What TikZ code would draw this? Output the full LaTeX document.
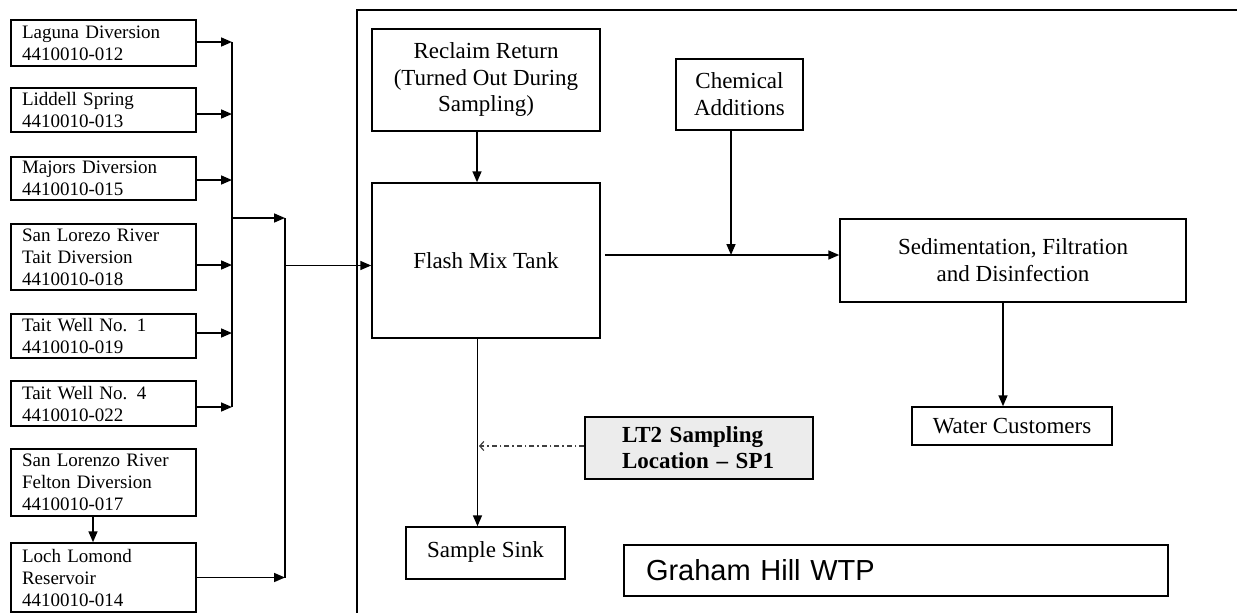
\documentclass[tikz,border=0pt]{standalone}
\usepackage{fontspec}
\setmainfont{Liberation Serif}
\newfontfamily\arialf{Liberation Sans}
\usetikzlibrary{arrows.meta}
\begin{document}
\begin{tikzpicture}[x=1pt,y=-1pt,
  lbox/.style={draw, line width=1.5pt, minimum width=185pt, text width=163pt, align=left, inner sep=0pt, font=\fontsize{19}{22}\selectfont},
  rbox/.style={draw, line width=1.5pt, inner sep=0pt, align=center, font=\fontsize{23}{26.5}\selectfont},
  arr/.style={line width=1.6pt, -{Triangle[length=11pt,width=9pt]}},
  ln/.style={line width=1.6pt}]
\useasboundingbox (0,0) rectangle (1237,613);
% left source boxes
\node[lbox, minimum height=46pt] (l1) at (103.5,43) {Laguna Diversion\\4410010-012};
\node[lbox, minimum height=44pt] (l2) at (103.5,110) {Liddell Spring\\4410010-013};
\node[lbox, minimum height=43pt] (l3) at (103.5,178.5) {Majors Diversion\\4410010-015};
\node[lbox, minimum height=66pt] (l4) at (103.5,257) {San Lorezo River\\Tait Diversion\\4410010-018};
\node[lbox, minimum height=44pt] (l5) at (103.5,336) {Tait Well No. 1\\4410010-019};
\node[lbox, minimum height=45pt] (l6) at (103.5,403.5) {Tait Well No. 4\\4410010-022};
\node[lbox, minimum height=67pt] (l7) at (103.5,482.5) {San Lorenzo River\\Felton Diversion\\4410010-017};
\node[lbox, minimum height=69pt] (l8) at (103.5,577.5) {Loch Lomond\\Reservoir\\4410010-014};
% buses
\coordinate (b1t) at (232,42);
\coordinate (b1b) at (232,407);
\coordinate (b1m) at (232,218);
\coordinate (b2t) at (285,218);
\coordinate (b2b) at (285,577.5);
\coordinate (b2m) at (285,265.5);
\draw[ln] (b1t) -- (b1b);
\draw[ln] (b2t) -- (b2b);
\draw[arr] ([yshift=1pt]l1.east) -- ([yshift=1pt]l1.east -| b1t);
\draw[arr] ([yshift=-4pt]l2.east) -- ([yshift=-4pt]l2.east -| b1t);
\draw[arr] ([yshift=-1.5pt]l3.east) -- ([yshift=-1.5pt]l3.east -| b1t);
\draw[arr] ([yshift=-8pt]l4.east) -- ([yshift=-8pt]l4.east -| b1t);
\draw[arr] ([yshift=3pt]l5.east) -- ([yshift=3pt]l5.east -| b1t);
\draw[arr] ([yshift=-3.5pt]l6.east) -- ([yshift=-3.5pt]l6.east -| b1t);
\draw[arr] (b1m) -- (b2t);
\draw[arr] (l8.east) -- (b2b);
\draw[arr] ([xshift=-10.5pt]l7.south) -- ([xshift=-10.5pt]l8.north);
% frame
\draw[line width=1.9pt] (357,613) -- (357,10) -- (1237,10);
% plant boxes
\node[rbox, minimum width=228pt, minimum height=102pt] (reclaim) at (486,80) {Reclaim Return\\(Turned Out During\\Sampling)};
\node[rbox, minimum width=228pt, minimum height=155pt] (flash) at (486,260.5) {Flash Mix Tank};
\node[rbox, minimum width=127pt, minimum height=71pt, font=\fontsize{23}{27}\selectfont] (chem) at (739.5,94.5) {Chemical\\Additions};
\node[rbox, minimum width=346pt, minimum height=83pt, font=\fontsize{23}{27}\selectfont] (sed) at (1013,260.5) {Sedimentation, Filtration\\and Disinfection};
\node[rbox, minimum width=200pt, minimum height=38pt] (water) at (1012,426) {Water Customers};
\node[rbox, minimum width=159pt, minimum height=52pt] (sink) at (485.5,553) {\raisebox{6pt}{Sample Sink}};
\node[rbox, minimum width=228pt, minimum height=62pt, fill=gray!15, text width=154pt, align=left, font=\bfseries\fontsize{23}{26}\selectfont] (lt2) at (699,448) {LT2 Sampling\\Location~--~SP1};
\node[draw, line width=1.9pt, minimum width=544pt, minimum height=51pt, text width=500pt, align=left, inner sep=0pt, font=\arialf\fontsize{29}{32}\selectfont] (graham) at (896,570.5) {Graham Hill WTP};
% connectors
\coordinate (cj) at (731,255);
\draw[arr] ([xshift=-9pt]reclaim.south) -- ([xshift=-9pt]flash.north);
\draw[arr] (b2m) -- (b2m -| flash.west);
\draw[arr] ([xshift=4pt,yshift=5.5pt]flash.east) -- ([yshift=5.5pt]sed.west);
\draw[arr] (chem.south -| cj) -- (cj);
\draw[arr] ([xshift=-10pt]sed.south) -- ([xshift=-10pt]sed.south |- water.north);
\draw[arr] ([xshift=-8.5pt]flash.south) -- ([xshift=-8.5pt]flash.south |- sink.north);
\coordinate (lt2tip) at (479,446);
\draw[line width=1.2pt, black!75, dash pattern=on 5pt off 3pt on 1.5pt off 3pt, -{Straight Barb[length=4pt,width=9pt]}] ([yshift=2pt]lt2.west) -- (lt2tip);
\end{tikzpicture}
\end{document}
